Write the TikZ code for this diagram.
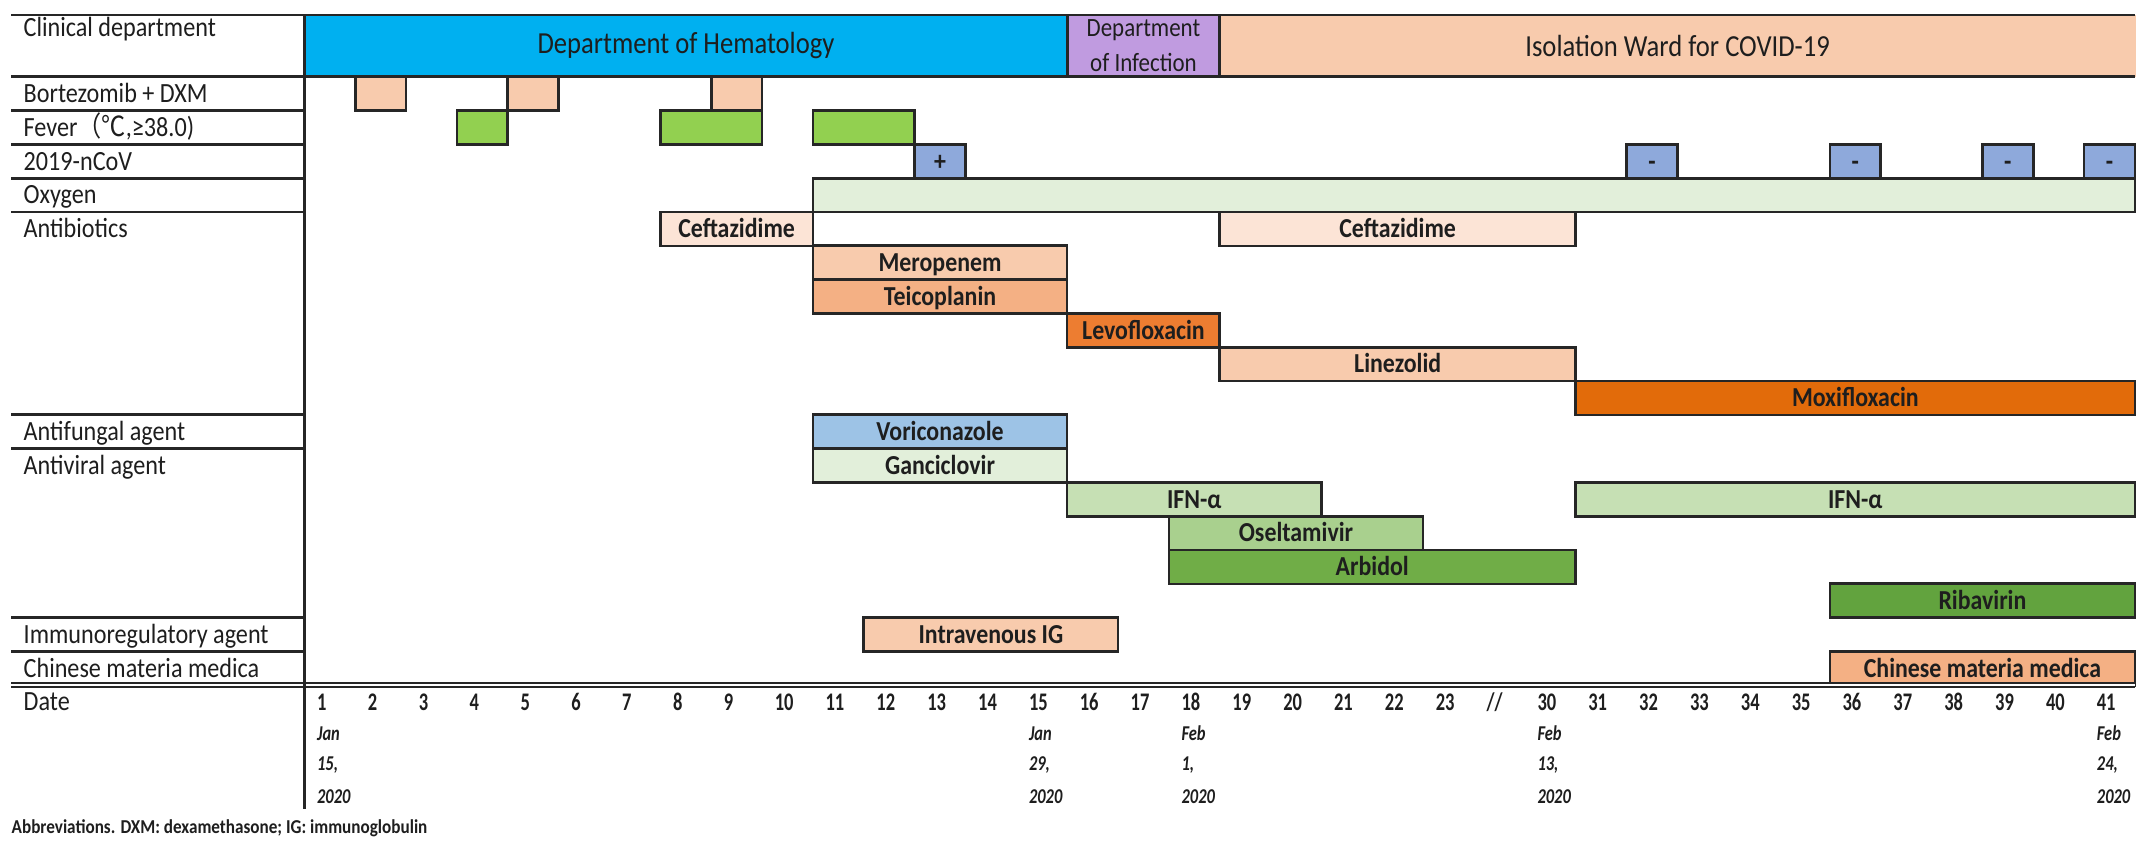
\documentclass[tikz,border=0pt]{standalone}
\usepackage{fontspec}
\usepackage{graphicx}
\setmainfont{Carlito}
\newfontfamily\cjk{Noto Sans CJK SC}
\definecolor{hema}{HTML}{00B0F0}
\definecolor{infe}{HTML}{C09BE0}
\definecolor{peach}{HTML}{F8CBAD}
\definecolor{lpeach}{HTML}{FCE4D6}
\definecolor{tanc}{HTML}{F4B084}
\definecolor{orng}{HTML}{ED7D31}
\definecolor{dorng}{HTML}{E26B0A}
\definecolor{fevg}{HTML}{92D050}
\definecolor{ncov}{HTML}{8EA9DB}
\definecolor{oxyc}{HTML}{E2EFDA}
\definecolor{voric}{HTML}{9DC3E6}
\definecolor{ifnc}{HTML}{C6E0B4}
\definecolor{oselc}{HTML}{A9D08E}
\definecolor{arbic}{HTML}{70AD47}
\definecolor{ribac}{HTML}{62A33E}
\definecolor{edge}{HTML}{262626}
\definecolor{txt}{HTML}{1E1E1E}
\newcommand\nrwx[1]{\scalebox{0.87}[1]{#1}}
\newcommand\nnumx[1]{\scalebox{0.73}[1]{#1}}
\newcommand\nitx[1]{\scalebox{0.78}[1]{#1}}
\tikzset{
  gbarbox/.style={draw=edge, line width=0.75pt, inner sep=0pt, outer sep=0pt, anchor=north west,
    font=\fontsize{7.8}{9}\selectfont\bfseries, text=txt, text height=0.68em, text depth=0.18em},
  lab/.style={anchor=west, inner sep=0pt, font=\fontsize{7.9}{9}\selectfont, text=txt,
    text height=0.68em, text depth=0.18em},
  rule/.style={line width=0.8pt, draw=edge},
  dept/.style={inner sep=0pt, outer sep=0pt, anchor=north west, text=txt},
  num/.style={anchor=west, inner sep=0pt, font=\fontsize{7.2}{8}\selectfont\bfseries, text=txt,
    text height=0.68em, text depth=0.18em},
  dt/.style={anchor=west, inner sep=0pt, font=\fontsize{6}{7}\selectfont\bfseries\itshape, text=txt,
    text height=0.68em, text depth=0.18em},
}
\newcommand\gbar[6]{%
  \pgfmathsetmacro\gxa{304.4+50.85*(#2-1)}%
  \pgfmathsetmacro\gwid{50.85*(#3-#2+1)*0.01}%
  \pgfmathsetmacro\gya{76.8+33.8*#4}%
  \node[gbarbox, fill=#5, minimum width=\gwid cm, minimum height=0.338cm] (#1) at (\gxa,\gya) {\nrwx{#6}};}
\begin{document}
\begin{tikzpicture}[x=0.01cm, y=-0.01cm]
\useasboundingbox[fill=white] (0,0) rectangle (2150,848);

% department row
\node[dept, fill=hema, minimum width=7.6275cm, minimum height=0.618cm, font=\fontsize{8.7}{10}\selectfont] (hemab) at (304.4,15) {\nrwx{Department of Hematology}};
\node[dept, fill=infe, minimum width=1.5255cm, minimum height=0.618cm, align=center, font=\fontsize{7.5}{10}\selectfont] (infeb) at (1067.15,15) {\nrwx{Department}\\\nrwx{of Infection}};
\node[dept, fill=peach, minimum width=9.153cm, minimum height=0.618cm, font=\fontsize{8.7}{10}\selectfont] (isolb) at (1219.7,15) {\nrwx{Isolation Ward for COVID-19}};

% bars
\gbar{bz1}{2}{2}{0}{peach}{}
\gbar{bz2}{5}{5}{0}{peach}{}
\gbar{bz3}{9}{9}{0}{peach}{}
\gbar{fv1}{4}{4}{1}{fevg}{}
\gbar{fv2}{8}{9}{1}{fevg}{}
\gbar{fv3}{11}{12}{1}{fevg}{}
\gbar{oxyb}{11}{36}{3}{oxyc}{}
\gbar{cv1}{13}{13}{2}{ncov}{+}
\gbar{cv2}{27}{27}{2}{ncov}{-}
\gbar{cv3}{31}{31}{2}{ncov}{-}
\gbar{cv4}{34}{34}{2}{ncov}{-}
\gbar{cv5}{36}{36}{2}{ncov}{-}
\gbar{cefa}{8}{10}{4}{lpeach}{Ceftazidime}
\gbar{cefb}{19}{25}{4}{lpeach}{Ceftazidime}
\gbar{merob}{11}{15}{5}{peach}{Meropenem}
\gbar{teicb}{11}{15}{6}{tanc}{Teicoplanin}
\gbar{levob}{16}{18}{7}{orng}{Levofloxacin}
\gbar{lineb}{19}{25}{8}{peach}{Linezolid}
\gbar{moxib}{26}{36}{9}{dorng}{Moxifloxacin}
\gbar{vorib}{11}{15}{10}{voric}{Voriconazole}
\gbar{gancb}{11}{15}{11}{oxyc}{Ganciclovir}
\gbar{ifna}{16}{20}{12}{ifnc}{IFN-α}
\gbar{ifnb}{26}{36}{12}{ifnc}{IFN-α}
\gbar{oselb}{18}{22}{13}{oselc}{Oseltamivir}
\gbar{arbib}{18}{25}{14}{arbic}{Arbidol}
\gbar{ribab}{31}{36}{15}{ribac}{Ribavirin}
\gbar{ivigb}{12}{16}{16}{peach}{Intravenous IG}
\gbar{cmmb}{31}{36}{17}{tanc}{Chinese materia medica}

% table rules
\coordinate (tl) at (11,15); \coordinate (tr) at (2135,15);
\draw[rule] (tl) -- (tr);
\coordinate (bl) at (11,76.8); \coordinate (br) at (2135,76.8);
\draw[rule] (bl) -- (br);
\foreach \yy [count=\i] in {110.6,144.4,178.2,212,414.8,448.6,617.6,651.4}{
  \coordinate (la\i) at (11,\yy); \coordinate (lb\i) at (304.4,\yy);
  \draw[rule] (la\i) -- (lb\i);
}
\coordinate (dl) at (11,685.2); \coordinate (dr) at (2135,685.2);
\draw[draw=edge, double=white, line width=0.6pt, double distance=0.5pt] (dl) -- (dr);
\coordinate (vt) at (304.4,15); \coordinate (vb) at (304.4,809);
\draw[rule] (vt) -- (vb);
\draw[rule] (hemab.north east) -- (hemab.south east);
\draw[rule] (infeb.north east) -- (infeb.south east);

% left labels
\node[lab] (lclin) at (23,27.4) {\nrwx{Clinical department}};
\node[lab] (lbort) at (23,93.7) {\nrwx{Bortezomib + DXM}};
\node[lab] (lfev) at (23,127.5) {\nrwx{Fever{\cjk （℃},≥38.0)}};
\node[lab] (lcov) at (23,161.3) {\nrwx{2019-nCoV}};
\node[lab] (loxy) at (23,195.1) {\nrwx{Oxygen}};
\node[lab] (lanti) at (23,228.9) {\nrwx{Antibiotics}};
\node[lab] (lfung) at (23,431.7) {\nrwx{Antifungal agent}};
\node[lab] (lvir) at (23,465.5) {\nrwx{Antiviral agent}};
\node[lab] (limm) at (23,634.5) {\nrwx{Immunoregulatory agent}};
\node[lab] (lcmm) at (23,668.3) {\nrwx{Chinese materia medica}};
\node[lab] (ldate) at (23,702) {\nrwx{Date}};

% day numbers
\foreach \t [count=\i] in {1,2,3,4,5,6,7,8,9,10,11,12,13,14,15,16,17,18,19,20,21,22,23,//,30,31,32,33,34,35,36,37,38,39,40,41}{
  \node[num] (d\i) at ({304.4+50.85*(\i-1)+12},702) {\nnumx{\t}};
}
% calendar dates
\node[dt] (m1) at (316.4,732) {\nitx{Jan}};
\node[dt] (n1) at (316.4,762) {\nitx{15,}};
\node[dt] (y1) at (316.4,795) {\nitx{2020}};
\node[dt] (m15) at (1028.3,732) {\nitx{Jan}};
\node[dt] (n15) at (1028.3,762) {\nitx{29,}};
\node[dt] (y15) at (1028.3,795) {\nitx{2020}};
\node[dt] (m18) at (1180.9,732) {\nitx{Feb}};
\node[dt] (n18) at (1180.9,762) {\nitx{1,}};
\node[dt] (y18) at (1180.9,795) {\nitx{2020}};
\node[dt] (m30) at (1536.8,732) {\nitx{Feb}};
\node[dt] (n30) at (1536.8,762) {\nitx{13,}};
\node[dt] (y30) at (1536.8,795) {\nitx{2020}};
\node[dt] (m41) at (2096.2,732) {\nitx{Feb}};
\node[dt] (n41) at (2096.2,762) {\nitx{24,}};
\node[dt] (y41) at (2096.2,795) {\nitx{2020}};

\node[anchor=west, inner sep=0pt, font=\fontsize{5.6}{7}\selectfont\bfseries, text=txt] (abbr) at (11,828) {\nrwx{Abbreviations. DXM: dexamethasone; IG: immunoglobulin}};
\end{tikzpicture}
\end{document}
